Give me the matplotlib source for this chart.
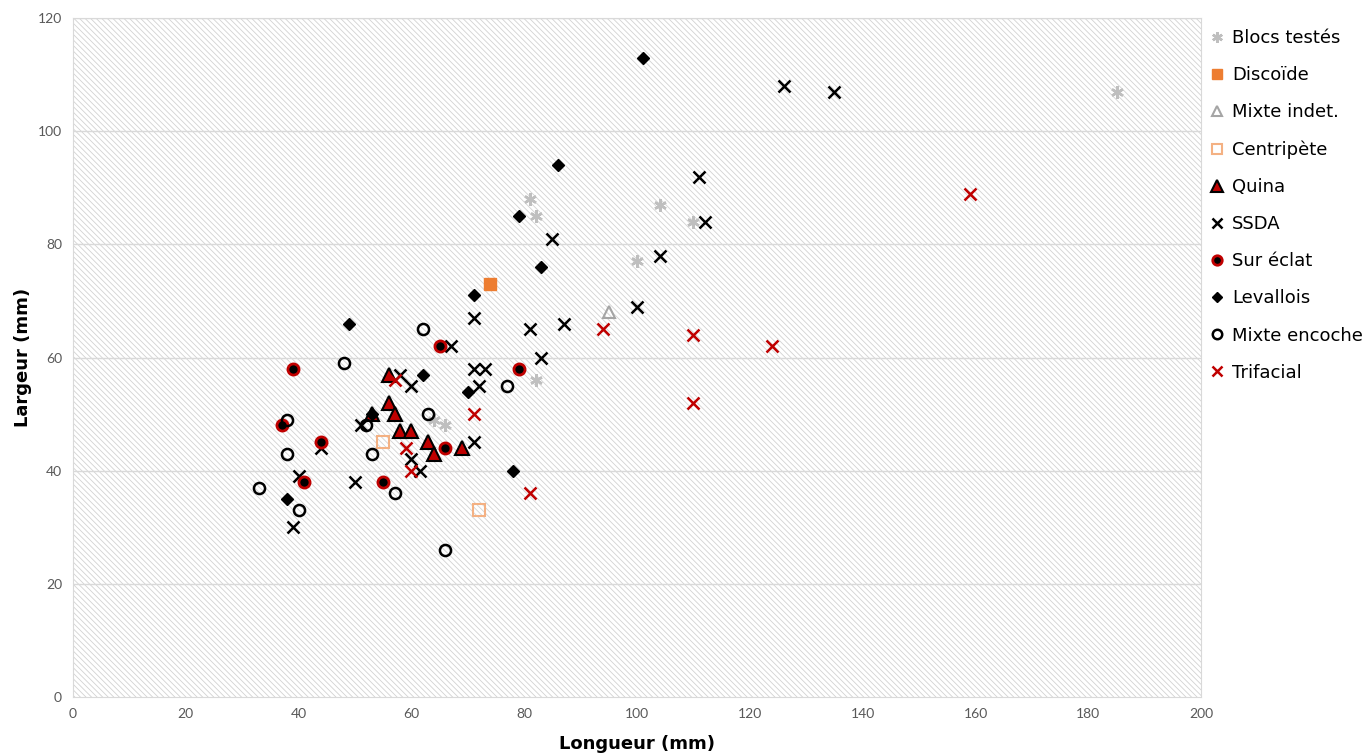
import matplotlib.pyplot as plt
from matplotlib.patches import Rectangle

# data (longueur, largeur in mm)
blocs_x = [81, 82, 104, 110, 100, 185, 82, 64, 66]
blocs_y = [88, 85, 87, 84, 77, 107, 56, 49, 48]

discoide_x = [74]
discoide_y = [73]

mixte_indet_x = [95]
mixte_indet_y = [68]

centripete_x = [55, 72]
centripete_y = [45, 33]

quina_x = [56, 56, 57, 53, 58, 60, 63, 64, 69]
quina_y = [57, 52, 50, 50, 47, 47, 45, 43, 44]

ssda_x = [126, 135, 111, 112, 85, 104, 100, 81, 87, 83, 71, 71, 73, 72, 67,
          58, 60, 51, 71, 60, 61.5, 40, 44, 50, 39]
ssda_y = [108, 107, 92, 84, 81, 78, 69, 65, 66, 60, 67, 58, 58, 55, 62,
          57, 55, 48, 45, 42, 40, 39, 44, 38, 30]

sur_eclat_x = [39, 65, 79, 37, 44, 41, 55, 66]
sur_eclat_y = [58, 62, 58, 48, 45, 38, 38, 44]

levallois_x = [101, 86, 79, 83, 71, 49, 62, 70, 53, 78, 38]
levallois_y = [113, 94, 85, 76, 71, 66, 57, 54, 50, 40, 35]

encoche_x = [33, 38, 38, 40, 48, 52, 53, 57, 62, 63, 66, 77]
encoche_y = [37, 43, 49, 33, 59, 48, 43, 36, 65, 50, 26, 55]

trifacial_x = [159, 94, 110, 124, 110, 71, 57, 59, 60, 81]
trifacial_y = [89, 65, 64, 62, 52, 50, 56, 44, 40, 36]

plt.rcParams['hatch.linewidth'] = 0.6

fig = plt.figure(figsize=(13.68, 7.56), dpi=100)
ax = fig.add_axes([0.0534, 0.078, 0.8246, 0.898])

# hatched plot background
ax.add_patch(Rectangle((0, 0), 1, 1, transform=ax.transAxes, facecolor='white',
                       edgecolor='#d2d2d2', hatch='\\\\\\\\\\\\', linewidth=0, zorder=0))
for yv in range(20, 121, 20):
    ax.axhline(yv, color='#d9d9d9', linewidth=1, zorder=1)

red = '#C00000'
ms = 8
ax.plot(blocs_x, blocs_y, linestyle='none', marker=(6, 2, 0), markersize=ms + 1,
        markeredgecolor='#BFBFBF', markeredgewidth=1.8, label='Blocs testés', zorder=3)
ax.plot(discoide_x, discoide_y, linestyle='none', marker='s', markersize=ms,
        color='#ED7D31', markeredgecolor='#ED7D31', label='Discoïde', zorder=3)
ax.plot(mixte_indet_x, mixte_indet_y, linestyle='none', marker='^', markersize=ms,
        markerfacecolor='none', markeredgecolor='#A5A5A5', markeredgewidth=1.5,
        label='Mixte indet.', zorder=3)
ax.plot(centripete_x, centripete_y, linestyle='none', marker='s', markersize=ms,
        markerfacecolor='none', markeredgecolor='#F4B183', markeredgewidth=1.5,
        label='Centripète', zorder=3)
ax.plot(quina_x, quina_y, linestyle='none', marker='^', markersize=ms + 1.5,
        markerfacecolor=red, markeredgecolor='black', markeredgewidth=1.5,
        label='Quina', zorder=3)
ax.plot(ssda_x, ssda_y, linestyle='none', marker='x', markersize=ms,
        markeredgecolor='black', markeredgewidth=1.8, label='SSDA', zorder=3)
ax.plot(sur_eclat_x, sur_eclat_y, linestyle='none', marker='o', markersize=ms,
        markerfacecolor='black', markeredgecolor=red, markeredgewidth=2,
        label='Sur éclat', zorder=3)
ax.plot(levallois_x, levallois_y, linestyle='none', marker='D', markersize=ms - 1.5,
        color='black', label='Levallois', zorder=3)
ax.plot(encoche_x, encoche_y, linestyle='none', marker='o', markersize=ms,
        markerfacecolor='none', markeredgecolor='black', markeredgewidth=1.8,
        label='Mixte encoche', zorder=3)
ax.plot(trifacial_x, trifacial_y, linestyle='none', marker='x', markersize=ms,
        markeredgecolor=red, markeredgewidth=1.8, label='Trifacial', zorder=3)

ax.set_xlim(0, 200)
ax.set_ylim(0, 120)
ax.set_xticks(range(0, 201, 20))
ax.set_yticks(range(0, 121, 20))
ax.tick_params(length=0, labelsize=10, labelcolor='#595959', pad=8)
for lbl in ax.get_xticklabels() + ax.get_yticklabels():
    lbl.set_fontfamily('Lato')
for sp in ax.spines.values():
    sp.set_color('#d9d9d9')

ax.set_xlabel('Longueur (mm)', fontsize=13, fontweight='bold', labelpad=11)
ax.set_ylabel('Largeur (mm)', fontsize=13, fontweight='bold', labelpad=4)

leg = ax.legend(loc='upper left', bbox_to_anchor=(1.0, 1.0), frameon=False,
                fontsize=13, labelspacing=1.06, handlelength=0.6, handletextpad=0.5,
                borderaxespad=0.2, markerscale=0.85)

fig.savefig('out.png', dpi=100)
